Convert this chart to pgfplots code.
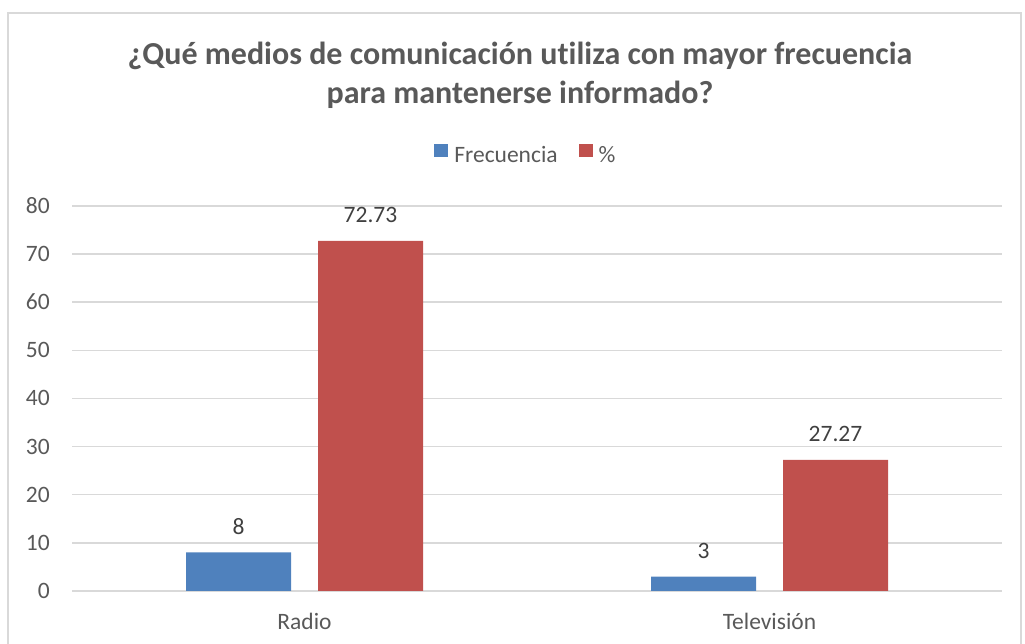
\documentclass[border=0pt]{standalone}
\usepackage{pgfplots}
\pgfplotsset{compat=1.18}
\usepackage{fontspec}
\setmainfont{Carlito}[Ligatures=NoCommon]
\definecolor{barblue}{HTML}{4F81BD}
\definecolor{barred}{HTML}{C0504D}
\definecolor{txt}{HTML}{595959}
\definecolor{lbl}{HTML}{404040}
\definecolor{gridc}{HTML}{D9D9D9}
\pgfkeys{/pgf/number format/assume math mode=true}
\begin{document}
\begin{tikzpicture}[x=1pt,y=1pt]
\useasboundingbox (0,0) rectangle (1025,644);
\draw[gridc, line width=1.3pt] (8,-5) -- (8,631) -- (1021,631) -- (1021,-5);
\node[txt, font=\fontsize{32}{36}\selectfont\bfseries, anchor=base, inner sep=0pt] at (520,579) {¿Qué medios de comunicación utiliza con mayor frecuencia};
\node[txt, font=\fontsize{32}{36}\selectfont\bfseries, anchor=base, inner sep=0pt] at (520,540) {para mantenerse informado?};
\begin{axis}[
  at={(72pt,53pt)}, anchor=south west,
  scale only axis, width=930pt, height=385pt,
  xmin=-0.5, xmax=1.5, ymin=0, ymax=80,
  ytick={0,10,...,80}, xtick={0,1}, xticklabels={Radio,Televisión},
  ybar=27pt, bar width=105pt,
  axis line style={draw=none}, major tick length=0pt,
  ymajorgrids, grid style={gridc, line width=1.5pt},
  tick label style={text=txt, font=\fontsize{23.5}{28}\selectfont, inner sep=0pt},
  yticklabel style={anchor=base east, xshift=-22pt, yshift=-7.5pt},
  xticklabel style={anchor=base, yshift=-39pt},
  point meta=explicit symbolic,
  nodes near coords,
  nodes near coords style={text=lbl, font=\fontsize{23.5}{28}\selectfont, anchor=base, inner sep=0pt, yshift=18pt},
  legend style={at={(axis description cs:0.487,1.135)}, anchor=center, draw=none, fill=none,
    legend columns=-1, font=\fontsize{23.5}{28}\selectfont, text=txt,
    /tikz/every odd column/.append style={column sep=6pt},
    /tikz/every even column/.append style={column sep=21pt},
    nodes={inner sep=0pt}},
  legend image code/.code={\fill[#1] (0pt,-1pt) rectangle (14pt,12pt);},
]
\addplot[fill=barblue, draw=none] coordinates {(0,8) [8] (1,3) [3]};
\addplot[fill=barred, draw=none] coordinates {(0,72.73) [72.73] (1,27.27) [27.27]};
\legend{Frecuencia,\%}
\end{axis}
\end{tikzpicture}
\end{document}
